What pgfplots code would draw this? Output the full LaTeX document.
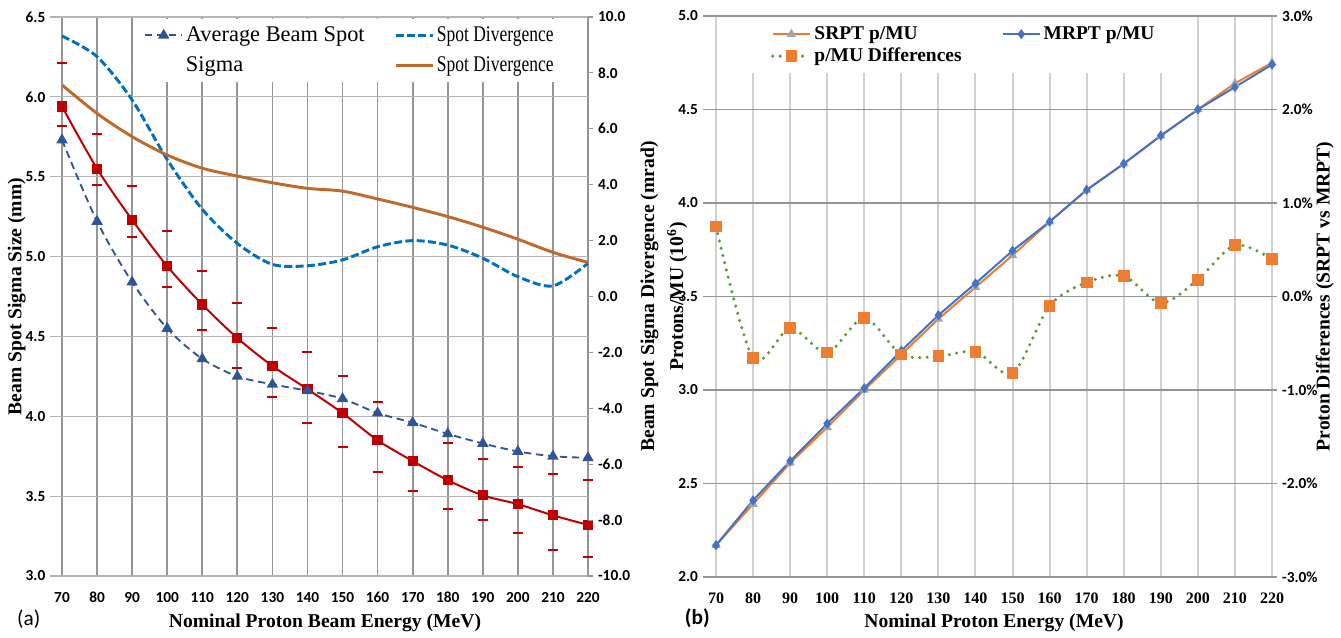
\documentclass[border=0pt]{standalone}
\usepackage{pgfplots}
\usepackage{pgfplotstable}
\pgfplotsset{compat=1.18}
\usepackage{fontspec}
\setmainfont{Liberation Serif}
\newfontfamily\carlito{Carlito}
\usepackage{graphicx}

\definecolor{cred}{HTML}{C00000}
\definecolor{ctri}{HTML}{2F5597}
\definecolor{cdiv}{HTML}{0070C0}
\definecolor{cbrown}{HTML}{C0692B}
\definecolor{corange}{HTML}{ED7D31}
\definecolor{cgray}{HTML}{A5A5A5}
\definecolor{cblue}{HTML}{4472C4}
\definecolor{cgreen}{HTML}{5E9A3A}
\definecolor{gridA}{HTML}{959595}
\definecolor{gridB}{HTML}{B4B4B4}
\definecolor{gridC}{HTML}{D0D0D0}

\pgfplotstableread{
E    sig   up    lo    avg
70   5.94  6.21  5.82  5.73
80   5.55  5.77  5.45  5.22
90   5.23  5.44  5.12  4.84
100  4.94  5.16  4.81  4.55
110  4.70  4.91  4.54  4.36
120  4.49  4.71  4.30  4.25
130  4.315 4.55  4.12  4.20
140  4.17  4.40  3.96  4.16
150  4.02  4.25  3.81  4.11
160  3.85  4.09  3.65  4.02
170  3.72  3.95  3.53  3.96
180  3.60  3.83  3.42  3.89
190  3.505 3.73  3.35  3.83
200  3.45  3.68  3.27  3.78
210  3.38  3.64  3.16  3.75
220  3.32  3.60  3.12  3.74
}\tblSig

\pgfplotstableread{
E    blue  brown
70   9.32  7.57
80   8.58  6.55
90   7.03  5.72
100  4.90  5.06
110  3.12  4.59
120  1.90  4.31
130  1.15  4.07
140  1.10  3.87
150  1.31  3.77
160  1.78  3.49
170  2.00  3.19
180  1.84  2.86
190  1.37  2.48
200  0.71  2.05
210  0.38  1.58
220  1.19  1.22
}\tblDiv

\pgfplotstableread{
E    srpt  mrpt  diff
70   2.17  2.17   0.75
80   2.39  2.41  -0.66
90   2.61  2.62  -0.34
100  2.80  2.82  -0.60
110  3.00  3.01  -0.23
120  3.19  3.21  -0.62
130  3.38  3.40  -0.64
140  3.55  3.57  -0.59
150  3.72  3.745 -0.82
160  3.90  3.90  -0.10
170  4.07  4.07   0.15
180  4.21  4.21   0.22
190  4.36  4.36  -0.07
200  4.50  4.50   0.18
210  4.64  4.62   0.55
220  4.75  4.74   0.40
}\tblPMU

\pgfplotsset{
  base/.style={
    scale only axis, anchor=south west,
    xmin=70, xmax=220, xtick={70,80,...,220},
    axis line style={draw=none},
    tick align=outside,
    tick label style={font=\carlito\bfseries\fontsize{11.5}{13}\selectfont},
    /pgf/number format/assume math mode=true,
    label style={font=\bfseries\fontsize{14.7}{17}\selectfont},
    clip=false,
  },
  legimg/.style={legend image code/.code={%
    \draw[mark repeat=2,mark phase=2,##1] plot coordinates {(0pt,0pt) (14pt,0pt) (28pt,0pt)};}},
}

\begin{document}
\begin{tikzpicture}
\useasboundingbox (0,0) rectangle (1005.75pt,-477.75pt);

% ---------------- (a) left axis ----------------
\begin{axis}[base,
  at={(46.5pt,-432pt)}, width=394.5pt, height=419.25pt,
  ymin=3, ymax=6.5, ytick={3,3.5,...,6.5},
  xtick pos=bottom, ytick pos=left,
  grid=major,
  x grid style={gridA, line width=1.3pt},
  y grid style={gridB, line width=0.8pt},
  xtick style={draw=none},
  ytick style={gridB, line width=0.8pt},
  major tick length=9pt,
  yticklabel style={/pgf/number format/.cd, fixed, fixed zerofill, precision=1},
  xticklabel shift=-0.5pt,
  ylabel={Beam Spot Sigma Size (mm)},
  xlabel={Nominal Proton Beam Energy (MeV)},
  ylabel style={at={(axis description cs:-0.086,0.5)}, anchor=center},
  xlabel style={at={(axis description cs:0.5,-0.083)}, anchor=center},
]
\addplot[cred, line width=1.5pt, smooth, mark=square*, mark size=3.1pt, mark options={solid, fill=cred}] table[x=E,y=sig]{\tblSig};
\addplot[only marks, mark=-, mark size=3.75pt, mark options={cred, line width=1.5pt}] table[x=E,y=up]{\tblSig};
\addplot[only marks, mark=-, mark size=3.75pt, mark options={cred, line width=1.5pt}] table[x=E,y=lo]{\tblSig};
\addplot[ctri, line width=1.4pt, smooth, dash pattern=on 5.5pt off 3.5pt, mark=triangle*, mark size=3.6pt, mark options={solid, fill=ctri}] table[x=E,y=avg]{\tblSig};
\end{axis}

% ---------------- (a) right axis ----------------
\begin{axis}[base,
  at={(46.5pt,-432pt)}, width=394.5pt, height=419.25pt,
  ymin=-10, ymax=10, ytick={-10,-8,...,10},
  axis x line=none, axis y line*=right,
  ytick style={gridA, line width=0.8pt},
  major tick length=4pt,
  yticklabel style={/pgf/number format/.cd, fixed, fixed zerofill, precision=1},
  ylabel={Beam Spot Sigma Divergence (mrad)},
  ylabel style={at={(axis description cs:1.117,0.5)}, anchor=center},
  legend columns=2, legimg,
  legend style={draw=none, fill=white, at={(axis description cs:0.148,0.997)}, anchor=north west,
    font=\fontsize{16.8}{19}\selectfont, inner xsep=3pt, inner ysep=4pt, row sep=6pt,
    /tikz/every even column/.append style={column sep=20pt}},
  legend cell align=left,
]
\addlegendimage{ctri, line width=1.4pt, dash pattern=on 5.5pt off 3.5pt, mark=triangle*, mark size=3.6pt, mark options={solid, fill=ctri}}
\addlegendentry{Average Beam Spot}
\addplot[cdiv, line width=2.2pt, smooth, dash pattern=on 6pt off 2.5pt] table[x=E,y=blue]{\tblDiv};
\addlegendentry{\scalebox{0.78}[1]{Spot Divergence}}
\addlegendimage{white}
\addlegendentry{Sigma}
\addplot[cbrown, line width=2.2pt, smooth] table[x=E,y=brown]{\tblDiv};
\addlegendentry{\scalebox{0.78}[1]{Spot Divergence}}
\end{axis}

% ---------------- (b) left axis ----------------
\begin{axis}[base,
  at={(537pt,-432.75pt)}, width=417pt, height=420.75pt,
  ymin=2, ymax=5, ytick={2,2.5,...,5},
  xtick pos=bottom, ytick pos=left,
  grid=major,
  x grid style={gridC, line width=1.5pt},
  y grid style={gridA, line width=0.8pt},
  xtick style={draw=none},
  ytick style={gridA, line width=0.8pt},
  major tick length=10pt,
  yticklabel style={/pgf/number format/.cd, fixed, fixed zerofill, precision=1},
  xticklabel shift=-1.5pt,
  xticklabel style={font=\bfseries\fontsize{12}{14}\selectfont},
  ylabel={Protons/MU (10\textsuperscript{6})},
  xlabel={Nominal Proton Energy (MeV)},
  ylabel style={at={(axis description cs:-0.070,0.5)}, anchor=center},
  xlabel style={at={(axis description cs:0.5,-0.081)}, anchor=center},
]
\addplot[corange, line width=1.5pt, mark=triangle*, mark size=2.6pt, mark options={cgray, fill=cgray}] table[x=E,y=srpt]{\tblPMU};
\addplot[cblue, line width=1.5pt, mark=diamond*, mark size=2.6pt, mark options={cblue, fill=cblue}] table[x=E,y=mrpt]{\tblPMU};
\end{axis}

% ---------------- (b) right axis ----------------
\begin{axis}[base,
  at={(537pt,-432.75pt)}, width=417pt, height=420.75pt,
  ymin=-3, ymax=3, ytick={-3,-2,...,3},
  axis x line=none, axis y line*=right,
  ytick style={gridA, line width=0.8pt},
  major tick length=4pt,
  yticklabel={\pgfmathprintnumber[fixed,fixed zerofill,precision=1]{\tick}\%},
  ylabel={Proton Differences (SRPT vs MRPT)},
  ylabel style={at={(axis description cs:1.095,0.5)}, anchor=center},
  legend columns=2, legimg,
  legend style={draw=none, fill=white, at={(axis description cs:0.06,0.998)}, anchor=north west,
    font=\bfseries\fontsize{14.6}{16}\selectfont, inner xsep=16pt, inner ysep=5pt, row sep=1pt,
    /tikz/every even column/.append style={column sep=28pt}},
  legend cell align=left,
]
\addlegendimage{corange, line width=1.5pt, mark=triangle*, mark size=2.6pt, mark options={cgray, fill=cgray}}
\addlegendentry{SRPT p/MU}
\addlegendimage{cblue, line width=1.5pt, mark=diamond*, mark size=2.6pt, mark options={cblue, fill=cblue}}
\addlegendentry{MRPT p/MU}
\addplot[cgreen, line width=2.6pt, smooth, line cap=round, dash pattern=on 0pt off 5.6pt, mark=square*, mark size=3.1pt, mark options={solid, corange, fill=corange}] table[x=E,y=diff]{\tblPMU};
\addlegendentry{p/MU Differences}
\end{axis}

\node[font=\carlito\fontsize{16}{18}\selectfont] at (21.5pt,-464pt) {(a)};
\node[font=\carlito\bfseries\fontsize{16}{18}\selectfont] at (523pt,-464pt) {(b)};
\end{tikzpicture}
\end{document}
